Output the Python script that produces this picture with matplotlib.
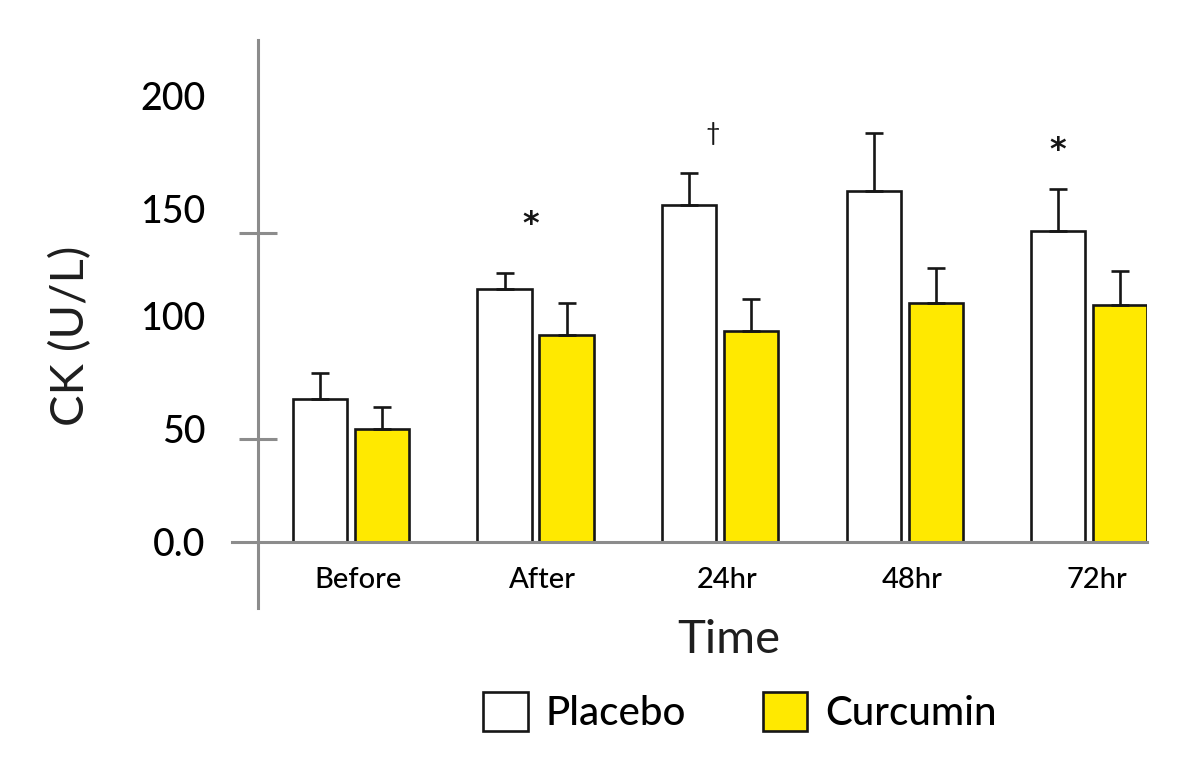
import numpy as np
import matplotlib.pyplot as plt
from matplotlib.patches import Patch

# values (CK, U/L)
time_points = ['Before', 'After', '24hr', '48hr', '72hr']
placebo = [69.5, 122.7, 163.5, 170.2, 150.9]
placebo_err = [12.7, 8.0, 15.6, 28.0, 20.3]
curcumin = [54.9, 100.4, 102.5, 116.1, 115.1]
curcumin_err = [10.8, 15.6, 15.4, 16.7, 16.5]

# y labels as printed (they sit a bit off the tick marks in the original)
ytick_text = ['0.0', '50', '100', '150', '200']
ytick_at = [0, 55.0, 109.6, 161.7, 216.2]

# significance marks: (x, y, text)
sig_marks = [(0.976, 154, '*'), (1.962, 198, '\u2020'), (3.832, 190, '*')]

plt.rcParams['font.family'] = ['Lato', 'DejaVu Sans']

GRAY = '#8c8c8c'
YELLOW = '#FFE900'
INK = '#161616'
BAR_W = 0.293
OFF = 0.168

fig = plt.figure(figsize=(11.94, 7.6), dpi=100)
ax = fig.add_axes([232 / 1194, 1 - 608 / 760, 915 / 1194, 568 / 760])

x = np.arange(len(time_points))
err_kw = dict(ecolor=INK, elinewidth=1.9, capsize=6.8, capthick=1.9)
ax.bar(x - OFF, placebo, BAR_W, color='white', edgecolor=INK, linewidth=1.9,
       yerr=[np.zeros(len(placebo)), placebo_err], error_kw=err_kw, label='Placebo')
ax.bar(x + OFF, curcumin, BAR_W, color=YELLOW, edgecolor=INK, linewidth=1.9,
       yerr=[np.zeros(len(curcumin)), curcumin_err], error_kw=err_kw, label='Curcumin')

for gx, gy, s in sig_marks:
    if s == '*':
        ax.text(gx, gy, s, fontsize=23, fontweight='bold', ha='center', va='center',
                color=INK, family='DejaVu Sans')
    else:
        ax.text(gx, gy, s, fontsize=18, ha='center', va='center', color=INK)

ax.set_xlim(-0.645, 4.314)
ax.set_ylim(-31.8, 243.5)

for side in ['top', 'right']:
    ax.spines[side].set_visible(False)
ax.spines['left'].set_position(('data', -0.504))
ax.spines['bottom'].set_position(('data', 0))
for side in ['left', 'bottom']:
    ax.spines[side].set_color(GRAY)
    ax.spines[side].set_linewidth(2.2)

ax.set_yticks(ytick_at)
ax.set_yticklabels(ytick_text, fontsize=27, fontweight='medium')
ax.set_yticks([50, 150], minor=True)
ax.tick_params(axis='y', which='major', length=0, pad=38)
ax.tick_params(axis='y', which='minor', direction='inout', length=28, width=2.2, color=GRAY)

ax.set_xticks(x + 0.04)
ax.set_xticklabels(time_points, fontsize=21, fontweight='medium')
ax.tick_params(axis='x', length=0, pad=18)

fig.text(729 / 1194, 1 - 640 / 760, 'Time', fontsize=34, fontweight='normal',
         ha='center', va='center', color='#1e1e1e')
fig.text(71 / 1194, 1 - 336 / 760, 'CK (U/L)', fontsize=34, fontweight='normal',
         ha='center', va='center', rotation=90, color='#1e1e1e')

handles = [Patch(facecolor='white', edgecolor=INK, linewidth=1.9, label='Placebo'),
           Patch(facecolor=YELLOW, edgecolor=INK, linewidth=1.9, label='Curcumin')]
leg = fig.legend(handles=handles, loc='center', bbox_to_anchor=(740 / 1194, 1 - 712 / 760),
                 ncol=2, frameon=False, fontsize=29, handlelength=1.1, handleheight=1.1,
                 handletextpad=0.45, columnspacing=1.9)
for t in leg.get_texts():
    t.set_fontweight('medium')

fig.savefig('out.png', dpi=100)
